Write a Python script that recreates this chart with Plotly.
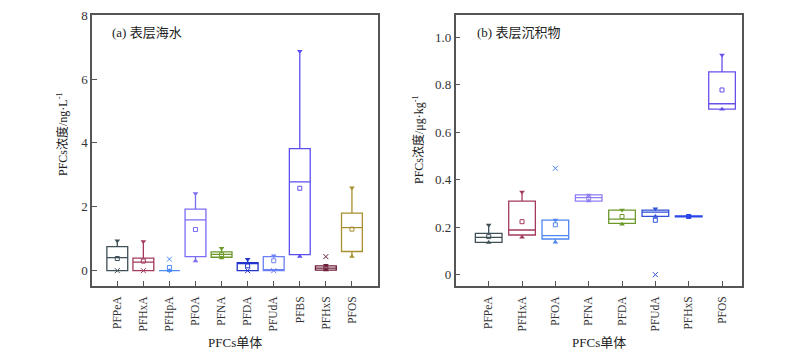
import plotly.graph_objects as go

# ---------------- data: (a) surface seawater ----------------
cats_a = ["PFPeA", "PFHxA", "PFHpA", "PFOA", "PFNA", "PFDA", "PFUdA", "PFBS", "PFHxS", "PFOS"]
q1_a = [0.0, 0.0, 0.0, 0.44, 0.42, 0.0, 0.0, 0.50, 0.02, 0.60]
med_a = [0.41, 0.27, 0.0, 1.59, 0.51, 0.23, 0.0, 2.78, 0.08, 1.35]
q3_a = [0.75, 0.39, 0.0, 1.93, 0.59, 0.25, 0.44, 3.82, 0.15, 1.80]
lo_a = [0.0, 0.0, 0.0, 0.30, 0.40, 0.0, 0.0, 0.44, 0.02, 0.44]
hi_a = [0.94, 0.91, 0.0, 2.42, 0.70, 0.36, 0.47, 6.87, 0.17, 2.60]
mean_a = [0.38, 0.30, 0.10, 1.29, 0.50, 0.15, 0.31, 2.58, 0.08, 1.30]
xcat_a = ["PFPeA", "PFHxA", "PFHpA", "PFDA", "PFUdA", "PFHxS"]
xval_a = [0.0, 0.0, 0.36, 0.0, 0.0, 0.44]
col_a = ["#3f4f57", "#a33a5c", "#4d8cf5", "#7a6cf5", "#6b9a2b",
         "#2233cc", "#6b7ff5", "#5b4ef0", "#6e1f3a", "#a88f2e"]

# ---------------- data: (b) surface sediment ----------------
cats_b = ["PFPeA", "PFHxA", "PFOA", "PFNA", "PFDA", "PFUdA", "PFHxS", "PFOS"]
q1_b = [0.136, 0.167, 0.150, 0.310, 0.216, 0.245, 0.243, 0.697]
med_b = [0.157, 0.188, 0.164, 0.324, 0.234, 0.263, 0.245, 0.720]
q3_b = [0.174, 0.310, 0.230, 0.336, 0.272, 0.272, 0.247, 0.854]
lo_b = [0.135, 0.157, 0.136, 0.310, 0.212, 0.245, 0.242, 0.697]
hi_b = [0.209, 0.348, 0.230, 0.335, 0.272, 0.278, 0.248, 0.925]
mean_b = [0.160, 0.223, 0.210, 0.322, 0.245, 0.229, 0.245, 0.778]
xcat_b = ["PFOA", "PFUdA"]
xval_b = [0.448, 0.0]
col_b = ["#3f4f57", "#a33a5c", "#4d86f0", "#8d7ff2", "#6b9a2b", "#3050d8", "#2a45e8", "#6650ea"]

SERIF = "Liberation Serif, Times New Roman, Noto Sans CJK SC, serif"

# page body has an 8px margin: lay out in window pixels, offset by it
OFF = 8
W, H = 800 - 2 * OFF, 357 - 2 * OFF


def px(x):
    return (x - OFF) / W


def py(y):
    return 1 - (y - OFF) / H


fig = go.Figure()


def add_panel(cats, q1, med, q3, lo, hi, mean, xcat, xval, cols, xa, ya):
    for i, c in enumerate(cats):
        fig.add_trace(go.Box(
            x=[c], q1=[q1[i]], median=[med[i]], q3=[q3[i]],
            lowerfence=[lo[i]], upperfence=[hi[i]],
            boxpoints=False, whiskerwidth=0, width=0.8,
            line=dict(color=cols[i], width=1.3),
            fillcolor="rgba(0,0,0,0)", showlegend=False,
            xaxis=xa, yaxis=ya, hoverinfo="skip"))
        fig.add_trace(go.Scatter(
            x=[c], y=[mean[i]], mode="markers",
            marker=dict(symbol="square-open", size=4, color=cols[i], line=dict(width=1)),
            showlegend=False, xaxis=xa, yaxis=ya, hoverinfo="skip"))
        fig.add_trace(go.Scatter(
            x=[c], y=[hi[i]], mode="markers",
            marker=dict(symbol="triangle-down", size=5, color=cols[i]),
            showlegend=False, xaxis=xa, yaxis=ya, hoverinfo="skip"))
        if c not in xcat or xval[xcat.index(c)] != lo[i]:
            fig.add_trace(go.Scatter(
                x=[c], y=[lo[i]], mode="markers",
                marker=dict(symbol="triangle-up", size=5, color=cols[i]),
                showlegend=False, xaxis=xa, yaxis=ya, hoverinfo="skip"))
    for c, v in zip(xcat, xval):
        fig.add_trace(go.Scatter(
            x=[c], y=[v], mode="markers",
            marker=dict(symbol="x-thin-open", size=5, color=cols[cats.index(c)],
                        line=dict(width=1, color=cols[cats.index(c)])),
            showlegend=False, xaxis=xa, yaxis=ya, hoverinfo="skip"))


add_panel(cats_a, q1_a, med_a, q3_a, lo_a, hi_a, mean_a, xcat_a, xval_a, col_a, "x", "y")
add_panel(cats_b, q1_b, med_b, q3_b, lo_b, hi_b, mean_b, xcat_b, xval_b, col_b, "x2", "y2")

axis_common = dict(showline=True, mirror=True, linecolor="#555", linewidth=1.5,
                   ticks="inside", ticklen=5, tickcolor="#555", tickwidth=1,
                   showgrid=False, zeroline=False, automargin=False,
                   ticklabeloverflow="allow",
                   tickfont=dict(family=SERIF, size=13, color="#333"))
xtickfont = dict(family=SERIF, size=11.5, color="#333")

fig.update_layout(
    width=W, height=H, margin=dict(l=0, r=0, t=0, b=0, autoexpand=False),
    paper_bgcolor="white", plot_bgcolor="white",
    xaxis=dict(domain=[px(92), px(378)], range=[-0.97, 10.0], anchor="y",
               tickangle=-90, categoryorder="array", categoryarray=cats_a,
               ticklabelstandoff=4,
               **{**axis_common, "tickfont": xtickfont}),
    yaxis=dict(domain=[py(286), py(15)], range=[-0.48, 8.005], anchor="x",
               tickvals=[0, 2, 4, 6, 8], ticktext=["0", "2", "4", "6", "8"], **axis_common),
    xaxis2=dict(domain=[px(455.7), px(741.7)], range=[-0.99, 7.59], anchor="y2",
                tickangle=-90, categoryorder="array", categoryarray=cats_b,
                ticklabelstandoff=4,
                **{**axis_common, "tickfont": xtickfont}),
    yaxis2=dict(domain=[py(286), py(15)], range=[-0.048, 1.094], anchor="x2",
                tickvals=[0, 0.2, 0.4, 0.6, 0.8, 1.0],
                ticktext=["0", "0.2", "0.4", "0.6", "0.8", "1.0"], **axis_common),
    font=dict(family=SERIF, color="#222"),
)

ann_font = dict(family=SERIF, size=12, color="#222")
lbl_font = dict(family=SERIF, size=13, color="#222")
common_ann = dict(xref="paper", yref="paper", showarrow=False, yanchor="middle")
fig.add_annotation(x=px(62), y=py(134), xanchor="center", text="PFCs浓度/ng·L<sup>-1</sup>",
                   textangle=-90, font=ann_font, **common_ann)
fig.add_annotation(x=px(418), y=py(140), xanchor="center", text="PFCs浓度/μg·kg<sup>-1</sup>",
                   textangle=-90, font=ann_font, **common_ann)
fig.add_annotation(x=px(235), y=py(342), xanchor="center", text="PFCs单体", font=lbl_font, **common_ann)
fig.add_annotation(x=px(599), y=py(342), xanchor="center", text="PFCs单体", font=lbl_font, **common_ann)
fig.add_annotation(x=px(110), y=py(32), xanchor="left", text="(a) 表层海水", font=lbl_font, **common_ann)
fig.add_annotation(x=px(475), y=py(32), xanchor="left", text="(b) 表层沉积物", font=lbl_font, **common_ann)

fig.write_html("out.html")
